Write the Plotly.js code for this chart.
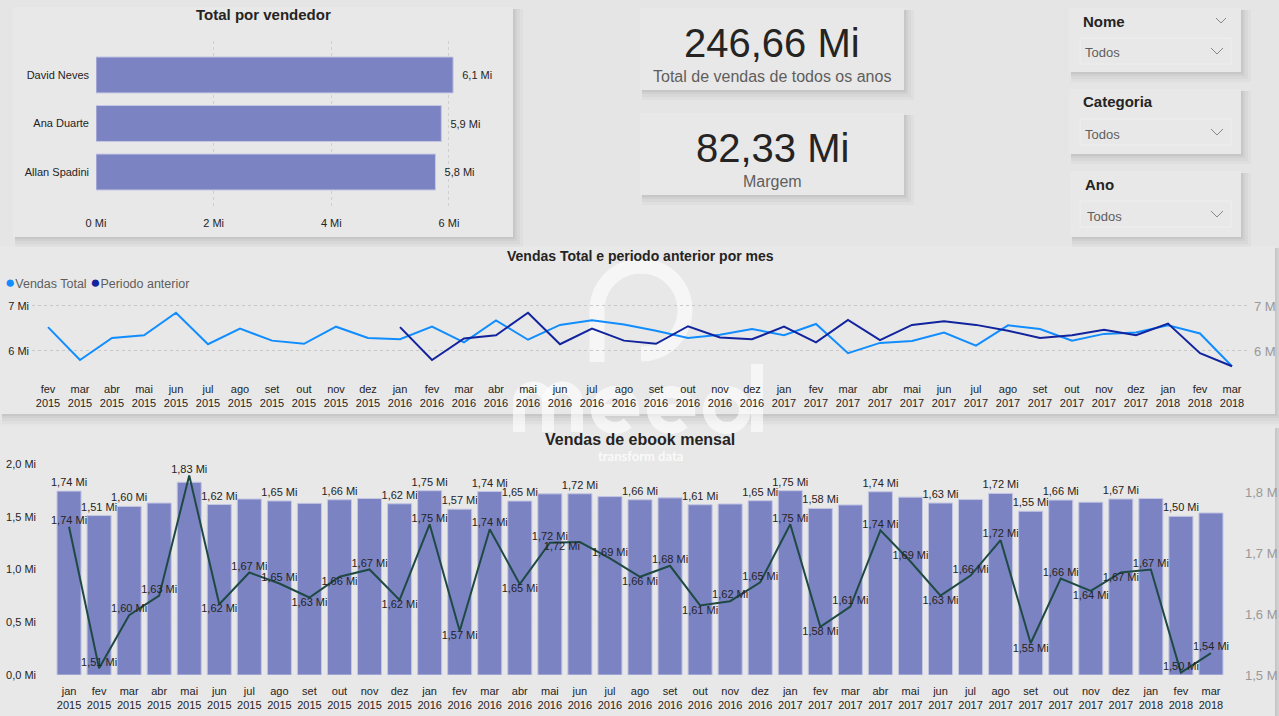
<!DOCTYPE html>
<html><head><meta charset="utf-8">
<script src="https://cdn.plot.ly/plotly-3.0.1.min.js"></script>
<style>html,body{margin:0;padding:0;background:#e5e5e5;overflow:hidden}#g{width:1279px;height:716px}</style>
</head><body><div id="g"></div>
<script>
// ---------------- DATA ----------------
const vendedores = ['David Neves', 'Ana Duarte', 'Allan Spadini'];
const totalVendedor = [6.07, 5.87, 5.77];

const kpiTotalValor = '246,66 Mi';
const kpiTotalRotulo = 'Total de vendas de todos os anos';
const kpiMargemValor = '82,33 Mi';
const kpiMargemRotulo = 'Margem';

const mesesLinha = [
  'fev<br>2015','mar<br>2015','abr<br>2015','mai<br>2015','jun<br>2015','jul<br>2015','ago<br>2015','set<br>2015','out<br>2015','nov<br>2015','dez<br>2015',
  'jan<br>2016','fev<br>2016','mar<br>2016','abr<br>2016','mai<br>2016','jun<br>2016','jul<br>2016','ago<br>2016','set<br>2016','out<br>2016','nov<br>2016','dez<br>2016',
  'jan<br>2017','fev<br>2017','mar<br>2017','abr<br>2017','mai<br>2017','jun<br>2017','jul<br>2017','ago<br>2017','set<br>2017','out<br>2017','nov<br>2017','dez<br>2017',
  'jan<br>2018','fev<br>2018','mar<br>2018'];
const vendasTotal = [
  6.53,5.80,6.29,6.35,6.85,6.15,6.50,6.23,6.16,6.54,6.29,
  6.26,6.54,6.19,6.68,6.25,6.58,6.68,6.59,6.45,6.29,6.36,6.49,
  6.35,6.60,5.95,6.18,6.22,6.41,6.12,6.57,6.49,6.23,6.38,6.41,
  6.57,6.39,5.66];
const periodoAnterior = [
  null,null,null,null,null,null,null,null,null,null,null,
  6.53,5.80,6.28,6.35,6.85,6.15,6.50,6.23,6.16,6.55,6.30,6.26,
  6.54,6.19,6.69,6.24,6.58,6.66,6.58,6.45,6.29,6.35,6.47,6.35,
  6.61,5.95,5.66];

const mesesEbook = [
  'jan<br>2015','fev<br>2015','mar<br>2015','abr<br>2015','mai<br>2015','jun<br>2015','jul<br>2015','ago<br>2015','set<br>2015','out<br>2015','nov<br>2015','dez<br>2015',
  'jan<br>2016','fev<br>2016','mar<br>2016','abr<br>2016','mai<br>2016','jun<br>2016','jul<br>2016','ago<br>2016','set<br>2016','out<br>2016','nov<br>2016','dez<br>2016',
  'jan<br>2017','fev<br>2017','mar<br>2017','abr<br>2017','mai<br>2017','jun<br>2017','jul<br>2017','ago<br>2017','set<br>2017','out<br>2017','nov<br>2017','dez<br>2017',
  'jan<br>2018','fev<br>2018','mar<br>2018'];
const vendasEbook = [
  1.743,1.511,1.598,1.630,1.827,1.616,1.668,1.650,1.627,1.661,1.673,1.623,
  1.747,1.572,1.739,1.649,1.717,1.718,1.691,1.661,1.679,1.614,1.621,1.652,
  1.747,1.579,1.612,1.737,1.686,1.630,1.663,1.721,1.552,1.658,1.638,1.668,
  1.673,1.504,1.536];

// which bar labels Power BI kept visible, and where each line label sits (style, not data)
const mostrarRotuloBarra = [
  1,1,1,0,0,1,0,1,0,1,0,1,
  1,1,1,1,0,1,0,1,0,1,0,1,
  1,1,0,1,0,1,0,1,1,1,0,1,
  0,1,0];
const posRotuloLinha = [
  'T','T','T','T','T','B','T','T','B','B','T','B',
  'T','B','T','B','T','BL','T','B','T','B','T','T',
  'T','B','T','T','T','B','T','T','B','T','B','B',
  'T','T','T'];

// ---------------- HELPERS ----------------
const W = 1279, H = 716;
const px = x => x / W, py = y => 1 - y / H;
const FONT = 'Liberation Sans, Arial, sans-serif';
const DARK = '#252423';
const GREY = '#605e5c';
const BAR = '#7b83c3';
const fmt2 = v => (Math.round(v * 100) / 100).toFixed(2).replace('.', ',') + ' Mi';
const fmt1 = v => (Math.round(v * 10) / 10).toFixed(1).replace('.', ',') + ' Mi';
const POS = {T:'top center', B:'bottom center', BL:'bottom left'};

const shapes = [];
function rectPx(x0, y0, x1, y1, fill, line) {
  shapes.push({type:'rect', xref:'paper', yref:'paper', x0:px(x0), x1:px(x1), y0:py(y1), y1:py(y0),
    fillcolor:fill, line:line || {width:0}, layer:'below'});
}
function card(x0, y0, x1, y1) {
  [[10,0.025],[7,0.03],[4,0.035],[2,0.04]].forEach(([s,a]) => rectPx(x0+2, y0+2, x1+s, y1+s, 'rgba(0,0,0,'+a+')'));
  rectPx(x0, y0, x1, y1, '#e8e8e8');
}
function polyPx(pts, color, width) {
  const d = pts.map((p,i) => (i ? 'L' : 'M') + px(p[0]).toFixed(5) + ',' + py(p[1]).toFixed(5)).join(' ');
  shapes.push({type:'path', xref:'paper', yref:'paper', path:d, line:{color:color, width:width}, layer:'below'});
}
function arc(cx, cy, r, a0, a1, n) {
  const pts = [];
  for (let i = 0; i <= n; i++) { const a = (a0 + (a1 - a0) * i / n) * Math.PI / 180; pts.push([cx + r*Math.cos(a), cy + r*Math.sin(a)]); }
  return pts;
}
const annotations = [];
function ann(x, y, text, size, color, xanchor, extra) {
  annotations.push(Object.assign({xref:'paper', yref:'paper', x:px(x), y:py(y), text:text, showarrow:false,
    xanchor:xanchor || 'center', yanchor:'middle', font:{family:FONT, size:size, color:color}}, extra || {}));
}

// ---------------- PANELS / CARDS ----------------
card(0, 246, 1275, 414);      // middle line chart panel
card(0, 426, 1275, 716);      // bottom combo panel
card(13, 7, 513, 237);        // bar chart card
card(640, 8, 904, 90);        // KPI 1
card(640, 113, 904, 195);     // KPI 2
card(1069, 8, 1241, 72);      // slicer Nome
card(1069, 89, 1241, 154);    // slicer Categoria
card(1070, 171, 1241, 237);   // slicer Ano
// slicer inner boxes
[[38,64],[119,145],[201,227]].forEach(([a,b]) => rectPx(1080, a, 1231, b, 'rgba(0,0,0,0)', {color:'#efefef', width:1}));
// chevrons
polyPx([[1216,18],[1221,23],[1226,18]], '#8a8886', 1);
[[51],[132],[214]].forEach(([c]) => polyPx([[1211,c-3],[1217,c+3],[1223,c-3]], '#8a8886', 1));

// watermark logo (white, translucent)
const WM = 'rgba(255,255,255,0.62)';
polyPx([[597,362]].concat(arc(641,310,44,180,450,60)), WM, 15);
polyPx([[519,432],[519,402]].concat(arc(533.5,402,14.5,180,360,20)).concat([[548,432]]), WM, 12);
polyPx([[548,402]].concat(arc(562.5,402,14.5,180,360,20)).concat([[577,432]]), WM, 12);
polyPx([[597,410],[633,410]].concat(arc(615,410,18,0,-315,40)), WM, 12);
polyPx([[653,410],[689,410]].concat(arc(671,410,18,0,-315,40)), WM, 12);
polyPx(arc(727,410,18,0,360,48), WM, 12);
polyPx([[757,364],[757,432]], WM, 12);

// ---------------- TEXT ----------------
ann(263, 15, '<b>Total por vendedor</b>', 15, DARK);
ann(772, 43, kpiTotalValor, 40, DARK);
ann(772, 76, kpiTotalRotulo, 16, GREY);
ann(772, 148, kpiMargemValor, 40, DARK);
ann(772, 181, kpiMargemRotulo, 16, GREY);
ann(1081, 21, '<b>Nome</b>', 15, DARK, 'left');
ann(1083, 53, 'Todos', 13, GREY, 'left');
ann(1081, 102, '<b>Categoria</b>', 15, DARK, 'left');
ann(1083, 134, 'Todos', 13, GREY, 'left');
ann(1083, 184, '<b>Ano</b>', 15, DARK, 'left');
ann(1085, 216, 'Todos', 13, GREY, 'left');
ann(640, 256, '<b>Vendas Total e periodo anterior por mes</b>', 14, DARK);
ann(3, 283, '<span style="color:#118DFF;font-size:17px">●</span>Vendas Total <span style="color:#12239E;font-size:17px">●</span>Periodo anterior', 12.5, GREY, 'left');
ann(640, 456, '<b>transform data</b>', 13, 'rgba(255,255,255,0.8)', 'center', {font:{family:'Lato, sans-serif', size:13, color:'rgba(255,255,255,0.8)'}});
ann(640, 439, '<b>Vendas de ebook mensal</b>', 16, DARK);

// ---------------- TRACES ----------------
const traces = [
  {type:'bar', orientation:'h', x:totalVendedor, y:vendedores, xaxis:'x', yaxis:'y', width:0.74,
   marker:{color:BAR, line:{color:'#c3c6e4', width:1}},
   text:totalVendedor.map(v => '\u00a0\u00a0' + fmt1(v)), textposition:'outside', constraintext:'none', cliponaxis:false,
   textfont:{family:FONT, size:11, color:DARK}, hoverinfo:'skip'},
  {type:'scatter', mode:'lines', x:mesesLinha, y:vendasTotal, xaxis:'x2', yaxis:'y2',
   line:{color:'#118DFF', width:2}, hoverinfo:'skip'},
  {type:'scatter', mode:'lines', x:mesesLinha, y:periodoAnterior, xaxis:'x2', yaxis:'y3',
   line:{color:'#12239E', width:2}, hoverinfo:'skip'},
  {type:'bar', x:mesesEbook, y:vendasEbook, xaxis:'x3', yaxis:'y4', width:0.8,
   marker:{color:BAR, line:{color:'#c3c6e4', width:1}},
   text:vendasEbook.map((v,i) => mostrarRotuloBarra[i] ? fmt2(v) : ''), textposition:'outside',
   constraintext:'none', cliponaxis:false, textfont:{family:FONT, size:11, color:DARK}, hoverinfo:'skip'},
  {type:'scatter', mode:'lines+text', x:mesesEbook, y:vendasEbook, xaxis:'x3', yaxis:'y5',
   line:{color:'#1f4a44', width:2}, text:vendasEbook.map(fmt2),
   textposition:posRotuloLinha.map(p => POS[p]),
   textfont:{family:FONT, size:11, color:DARK}, cliponaxis:false, hoverinfo:'skip'}
];

// ---------------- LAYOUT ----------------
const tickF = {family:FONT, size:11, color:DARK};
const layout = {
  width:W, height:H, margin:{l:0, r:0, t:0, b:0}, autosize:false,
  paper_bgcolor:'#e5e5e5', plot_bgcolor:'rgba(0,0,0,0)',
  font:{family:FONT}, showlegend:false, hovermode:false,
  shapes:shapes, annotations:annotations,
  // bar chart
  xaxis:{domain:[px(96), px(500)], range:[0, 404/58.83], anchor:'y', tickvals:[0,2,4,6], ticktext:[0,2,4,6].map(v => v+' Mi'),
         showgrid:true, gridcolor:'#cfcfcf', griddash:'dot', zeroline:false, showline:false, ticks:'', tickfont:tickF, ticklabelstandoff:9, fixedrange:true},
  yaxis:{domain:[py(206), py(41)], range:[2.7, -0.7], anchor:'x', type:'category', showgrid:false, zeroline:false, ticks:'',
         tickfont:tickF, ticklabelstandoff:6, fixedrange:true},
  // middle line chart
  xaxis2:{domain:[px(32), px(1248)], range:[-0.5, 37.5], anchor:'y2', type:'category', showgrid:false, zeroline:false, ticks:'',
          tickfont:tickF, tickangle:0, ticklabelstandoff:8, fixedrange:true},
  yaxis2:{domain:[py(373), py(295)], range:[5.511, 7.244], anchor:'x2', tickvals:[6,7], ticktext:['6 Mi','7 Mi'],
          showgrid:true, gridcolor:'#c8c8c8', griddash:'dot', zeroline:false, ticks:'', tickfont:tickF, ticklabelstandoff:2, fixedrange:true},
  yaxis3:{overlaying:'y2', side:'right', anchor:'x2', range:[5.511, 7.244], tickvals:[6,7], ticktext:['6 M','7 M'],
          showgrid:false, zeroline:false, ticks:'', tickfont:{family:FONT, size:13, color:'#999999'}, ticklabelstandoff:5, fixedrange:true},
  // bottom combo
  xaxis3:{domain:[px(54), px(1226)], range:[-0.5, 38.5], anchor:'y4', type:'category', showgrid:false, zeroline:false, ticks:'',
          tickfont:tickF, tickangle:0, ticklabelstandoff:8, fixedrange:true},
  yaxis4:{domain:[py(675), py(464)], range:[0, 2.0], anchor:'x3', tickvals:[0,0.5,1,1.5,2], ticktext:[0,0.5,1,1.5,2].map(v => v.toFixed(1).replace('.', ',')+' Mi'),
          showgrid:true, gridcolor:'#ebe6dd', zeroline:false, ticks:'', tickfont:tickF, ticklabelstandoff:17, fixedrange:true},
  yaxis5:{overlaying:'y4', side:'right', anchor:'x3', range:[1.5, 1.5 + 211/610], tickvals:[1.5,1.6,1.7,1.8],
          ticktext:['1,5 M','1,6 M','1,7 M','1,8 M'], showgrid:false, zeroline:false, ticks:'',
          tickfont:{family:FONT, size:13, color:'#999999'}, ticklabelstandoff:18, fixedrange:true}
};

Plotly.newPlot('g', traces, layout, {displayModeBar:false, staticPlot:true});
</script>
</body></html>
